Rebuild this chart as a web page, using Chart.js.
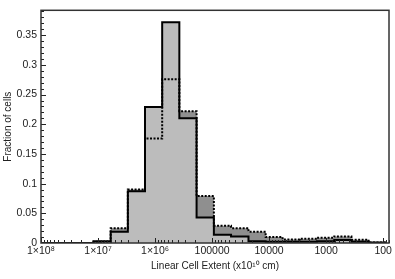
<!DOCTYPE html>
<html>
<head>
<meta charset="utf-8">
<script src="https://cdn.jsdelivr.net/npm/chart.js@4/dist/chart.umd.min.js"></script>
<style>
  html, body { margin: 0; padding: 0; background: #fff; }
  #wrap { width: 395px; height: 279px; }
</style>
</head>
<body>
<div id="wrap"><canvas id="cellChart" width="395" height="279"></canvas></div>
<script>
// histogram bin edges (cell extent, x10^10 cm), left to right on the reversed axis
const binEdges = [1.2e7, 6e6, 3e6, 1.5e6, 7.5e5, 3.75e5, 1.87e5, 9.3e4, 4.65e4, 2.3e4, 1.15e4, 5.8e3, 2.9e3, 1.45e3, 720, 360, 180, 89];

// fraction of cells in each bin
const solidFrac  = [0.003, 0.019, 0.087, 0.229, 0.372, 0.210, 0.043, 0.014, 0.011, 0.003, 0.002, 0.002, 0.002, 0.003, 0.005, 0.002, 0.001];
const dottedFrac = [0.002, 0.025, 0.090, 0.176, 0.276, 0.222, 0.079, 0.029, 0.025, 0.019, 0.010, 0.006, 0.007, 0.009, 0.011, 0.0055, 0.001];

const xTickValues = [1e8, 1e7, 1e6, 1e5, 1e4, 1e3, 1e2];
const xTickLabels = ["1×10⁸", "1×10⁷", "1×10⁶", "100000", "10000", "1000", "100"];
const yTickValues = [0, 0.05, 0.1, 0.15, 0.2, 0.25, 0.3, 0.35];
const yTickLabels = ["0", "0.05", "0.1", "0.15", "0.2", "0.25", "0.3", "0.35"];

const X_MAX = 1e8, X_MIN = 79, Y_MAX = 0.392;
const FONT = "'Liberation Sans', Arial, Helvetica, sans-serif";

// turn bin values into step points (value held from its edge to the next one)
function toSteps(values) {
  const pts = [{ x: X_MAX, y: 0 }];
  binEdges.forEach((e, i) => pts.push({ x: e, y: i < values.length ? values[i] : 0 }));
  return pts;
}

// inward tick marks + box frame
const frameTicks = {
  id: "frameTicks",
  afterDatasetsDraw(chart) {
    const { ctx, chartArea: a, scales: { x, y } } = chart;
    ctx.save();
    ctx.strokeStyle = "#222";
    ctx.lineWidth = 1;
    for (let e = 1; e <= 8; e++) {
      for (let m = 1; m <= 9; m++) {
        const v = m * Math.pow(10, e);
        if (v > X_MAX || v < X_MIN) continue;
        const px = Math.round(x.getPixelForValue(v)) + 0.5;
        const len = m === 1 ? 5 : 3;
        ctx.beginPath();
        ctx.moveTo(px, a.bottom);
        ctx.lineTo(px, a.bottom - len);
        ctx.stroke();
      }
    }
    for (let i = 1; i <= 39; i++) {
      const py = Math.round(y.getPixelForValue(i / 100)) + 0.5;
      const len = i % 5 === 0 ? 5 : 3;
      ctx.beginPath();
      ctx.moveTo(a.left, py);
      ctx.lineTo(a.left + len, py);
      ctx.stroke();
    }
    ctx.strokeStyle = "#333";
    ctx.lineWidth = 1.5;
    ctx.strokeRect(a.left, a.top, a.right - a.left, a.bottom - a.top);
    ctx.restore();
  }
};

const ctx = document.getElementById("cellChart").getContext("2d");
new Chart(ctx, {
  type: "line",
  data: {
    datasets: [
      {
        label: "solid",
        data: toSteps(solidFrac),
        stepped: true,
        borderColor: "#000",
        borderWidth: 2,
        backgroundColor: "#bcbcbc",
        fill: "origin",
        pointRadius: 0
      },
      {
        label: "dotted",
        data: toSteps(dottedFrac),
        stepped: true,
        borderColor: "#000",
        borderWidth: 2,
        borderDash: [2, 1.5],
        backgroundColor: "#8f8f8f",
        fill: "origin",
        pointRadius: 0
      }
    ]
  },
  options: {
    responsive: false,
    animation: false,
    devicePixelRatio: 1,
    layout: { padding: { top: 6, right: 6, left: 0, bottom: 0 } },
    plugins: {
      legend: { display: false },
      tooltip: { enabled: false },
      filler: { drawTime: "beforeDatasetsDraw" }
    },
    scales: {
      x: {
        type: "logarithmic",
        reverse: true,
        min: X_MIN,
        max: X_MAX,
        afterBuildTicks: s => { s.ticks = xTickValues.map(v => ({ value: v })); },
        afterFit: s => { s.height = 36; },
        ticks: {
          autoSkip: false,
          maxRotation: 0,
          padding: 2,
          color: "#222",
          font: { family: FONT, size: 10.5 },
          callback: (v, i) => xTickLabels[i]
        },
        grid: { display: false, drawTicks: false },
        border: { display: false },
        title: {
          display: true,
          text: "Linear Cell Extent (x10¹⁰ cm)",
          color: "#222",
          font: { family: FONT, size: 10 },
          padding: { top: 0, bottom: 7 }
        }
      },
      y: {
        type: "linear",
        min: 0,
        max: Y_MAX,
        afterBuildTicks: s => { s.ticks = yTickValues.map(v => ({ value: v })); },
        afterFit: s => { s.width = 41; },
        ticks: {
          padding: 4,
          color: "#222",
          font: { family: FONT, size: 10.5 },
          callback: (v, i) => yTickLabels[i]
        },
        grid: { display: false, drawTicks: false },
        border: { display: false },
        title: {
          display: true,
          text: "Fraction of cells",
          color: "#222",
          font: { family: FONT, size: 10 },
          padding: { top: 2, bottom: 0 }
        }
      }
    }
  },
  plugins: [frameTicks]
});
</script>
</body>
</html>
